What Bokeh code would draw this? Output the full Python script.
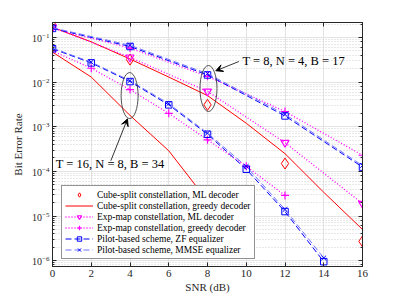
from bokeh.plotting import figure
from bokeh.models import (LinearAxis, LogAxis, FixedTicker, LogTicker, Legend,
                          LegendItem, Arrow, VeeHead, Range1d, Label, CustomJSTickFormatter)
from bokeh.core.properties import value
from bokeh.embed import file_html
from bokeh.resources import INLINE

# ---------------- data ----------------
snr_coarse = [0, 4, 8, 12, 16]
snr_fine = [0, 2, 4, 6, 8, 10, 12, 14, 16]

# T = 8, N = 4, B = 17
cube_ml_T8 = [0.19, 0.032, 3.1e-3, 1.5e-4, 2.7e-6]
cube_greedy_T8 = [0.17, 0.08, 0.033, 0.013, 5.0e-3, 1.2e-3, 2.5e-4, 3.4e-5, 5.0e-6]
exp_ml_T8 = [0.17, 0.036, 6.2e-3, 4.4e-4, 1.9e-5]
exp_greedy_T8 = [0.16, 0.058, 0.0135, 2.2e-3, 2.3e-4]
zf_T8 = [0.16, 0.063, 0.0145, 1.75e-3, 1.25e-4]
mmse_T8 = [0.165, 0.067, 0.0155, 1.9e-3, 1.35e-4]

# T = 16, N = 8, B = 34
snr_zf_T16 = [0, 2, 4, 6, 8, 10, 12, 14]
zf_T16 = [0.056, 0.027, 0.0103, 3.1e-3, 6.8e-4, 1.12e-4, 1.26e-5, 9.5e-7]
mmse_T16 = [0.058, 0.028, 0.0108, 3.3e-3, 7.2e-4, 1.3e-4, 1.4e-5, 1.15e-6]
snr_exp_T16 = [0, 2, 4, 6, 8, 10, 12]
exp_greedy_T16 = [0.05, 0.0205, 0.0068, 2.0e-3, 5.1e-4, 1.3e-4, 2.9e-5]
snr_cube_T16 = [0, 2, 4, 6, 8, 10]
cube_greedy_T16 = [0.047, 0.013, 1.8e-3, 2.9e-4, 2.2e-5, 1.5e-6]

x_ticks = [0, 2, 4, 6, 8, 10, 12, 14, 16]
legend_labels = [
    "Cube-split constellation, ML decoder",
    "Cube-split constellation, greedy decoder",
    "Exp-map constellation, ML decoder",
    "Exp-map constellation, greedy decoder",
    "Pilot-based scheme, ZF equalizer",
    "Pilot-based scheme, MMSE equalizer",
]

# annotation anchors (data coordinates)
ann_T8 = dict(text="T = 8, N = 4, B = 17", x=9.81, y=0.0305)
ann_T16 = dict(text="T = 16, N = 8, B = 34", x=0.17, y=1.49e-4)
ell_T8 = dict(x=8.05, y=7.2e-3)
ell_T16 = dict(x=3.98, y=5.0e-3)
arrow_T8 = dict(x_start=9.62, y_start=0.029, x_end=8.43, y_end=0.018)
arrow_T16 = dict(x_start=3.01, y_start=1.73e-4, x_end=3.87, y_end=1.5e-3)

FONT = "Liberation Serif"
AX = "#262626"
RED = "#ff0000"
MAG = "#ff00ff"
BLUE = "#0000ff"
LBLUE = "#7070ff"

p = figure(width=399, height=299, y_axis_type="log",
           x_range=Range1d(0, 16), y_range=Range1d(7.4e-7, 0.217),
           output_backend="svg", toolbar_location=None,
           min_border_left=52, min_border_right=37,
           min_border_top=22, min_border_bottom=33)

p.outline_line_color = AX
p.background_fill_color = "white"

# grids
p.xgrid.ticker = FixedTicker(ticks=x_ticks)
p.xgrid.grid_line_color = "#e3e3e3"
p.ygrid.grid_line_color = "#e3e3e3"
p.ygrid.minor_grid_line_color = "#d0d0d0"
p.ygrid.minor_grid_line_dash = "1 2"

# axes
xa = p.xaxis[0]
xa.ticker = FixedTicker(ticks=x_ticks)
ya = p.yaxis[0]
for ax in (xa, ya):
    ax.axis_line_color = AX
    ax.major_tick_line_color = AX
    ax.minor_tick_line_color = AX
    ax.major_tick_in = 4
    ax.major_tick_out = 0
    ax.minor_tick_in = 2
    ax.minor_tick_out = 0
    ax.major_label_text_font = FONT
    ax.major_label_text_font_size = "11px"
    ax.major_label_text_color = AX
    ax.axis_label_text_font = FONT
    ax.axis_label_text_font_size = "11px"
    ax.axis_label_text_font_style = "normal"
    ax.axis_label_text_color = AX
ya.major_label_text_font_size = "10px"
xa.minor_tick_line_color = None
xa.axis_label = "SNR (dB)"
xa.axis_label_standoff = 1
xa.major_label_standoff = 3
ya.axis_label = "Bit Error Rate"
ya.axis_label_standoff = 5
ya.major_label_standoff = 3

blank = CustomJSTickFormatter(code="return ''")
top = LinearAxis(ticker=FixedTicker(ticks=x_ticks), formatter=blank,
                 axis_line_color=AX, major_tick_line_color=AX, minor_tick_line_color=None,
                 major_tick_in=4, major_tick_out=0, major_label_standoff=0)
p.add_layout(top, "above")
right = LogAxis(formatter=CustomJSTickFormatter(code="return ''"), axis_line_color=AX,
                major_tick_line_color=AX, minor_tick_line_color=AX,
                major_tick_in=4, major_tick_out=0, minor_tick_in=2, minor_tick_out=0,
                major_label_standoff=0)
p.add_layout(right, "right")

dash = "6 3"
dot = "1 2"

def group(snr_c, cube_ml, snr_cg, cube_g, snr_e, exp_ml, snr_eg, exp_g, snr_p, zf, mmse):
    out = {}
    if cube_ml is not None:
        out["cml"] = [p.scatter(snr_c, cube_ml, marker="diamond", size=11, fill_color=None,
                                line_color=RED, line_width=1)]
    out["cg"] = [p.line(snr_cg, cube_g, line_color=RED, line_width=1)]
    if exp_ml is not None:
        out["eml"] = [p.line(snr_e, exp_ml, line_color=MAG, line_width=1.3, line_dash=dot),
                      p.scatter(snr_e, exp_ml, marker="inverted_triangle", size=8,
                                fill_color=None, line_color=MAG, line_width=1.2)]
    out["eg"] = [p.line(snr_eg, exp_g, line_color=MAG, line_width=1.3, line_dash=dot),
                 p.scatter(snr_eg, exp_g, marker="cross", size=8, line_color=MAG,
                           line_width=1.2)]
    out["zf"] = [p.line(snr_p, zf, line_color=BLUE, line_width=1, line_dash=dash),
                 p.scatter(snr_p, zf, marker="square", size=6.5, fill_color=None,
                           line_color=BLUE, line_width=1)]
    out["mm"] = [p.line(snr_p, mmse, line_color=LBLUE, line_width=1, line_dash=dash),
                 p.scatter(snr_p, mmse, marker="x", size=6.5, line_color=BLUE, line_width=1)]
    return out

g8 = group(snr_coarse, cube_ml_T8, snr_fine, cube_greedy_T8, snr_coarse, exp_ml_T8,
           snr_coarse, exp_greedy_T8, snr_coarse, zf_T8, mmse_T8)
g16 = group(None, None, snr_cube_T16, cube_greedy_T16, None, None,
            snr_exp_T16, exp_greedy_T16, snr_zf_T16, zf_T16, mmse_T16)

# annotations
for e in (ell_T8, ell_T16):
    p.ellipse(x=[e["x"]], y=[e["y"]], width=17, height=46, width_units="screen",
              height_units="screen", fill_color=None, line_color=AX, line_width=0.8)
for a in (arrow_T8, arrow_T16):
    p.add_layout(Arrow(end=VeeHead(size=7, fill_color="black", line_color="black"),
                       line_color="black", line_width=0.8, **a))
for t in (ann_T8, ann_T16):
    p.add_layout(Label(x=t["x"], y=t["y"], text=t["text"], text_font=FONT,
                       text_font_size="12.5px", text_baseline="middle",
                       text_align="left", text_color="black"))

keys = ["cml", "cg", "eml", "eg", "zf", "mm"]
items = [LegendItem(label=lab, renderers=g8[k]) for lab, k in zip(legend_labels, keys)]
legend = Legend(items=items, location=(9, 7), background_fill_color="white",
                background_fill_alpha=1.0, border_line_color=AX, border_line_width=1,
                label_text_font=FONT, label_text_font_size="9.5px", label_text_color="black",
                glyph_width=28, glyph_height=11, label_height=11, spacing=0,
                padding=3, margin=0, label_standoff=4)
p.add_layout(legend)

open("out.html", "w").write(file_html(p, INLINE))
